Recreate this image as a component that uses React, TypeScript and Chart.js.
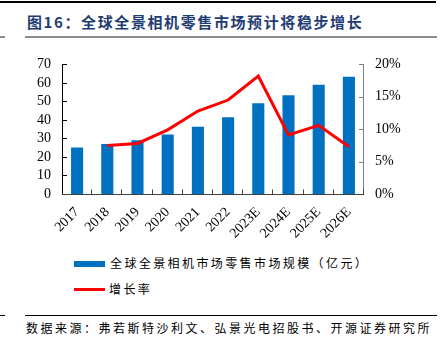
import React, { useEffect, useRef } from "react";
import { Chart, registerables } from "chart.js";

Chart.register(...registerables);

const categories = ["2017", "2018", "2019", "2020", "2021", "2022", "2023E", "2024E", "2025E", "2026E"];
const marketSize = [25.1, 27.0, 29.0, 32.2, 36.3, 41.4, 49.0, 53.4, 59.0, 63.3];
const growthRate = [null, 7.5, 7.8, 9.9, 12.8, 14.5, 18.2, 9.1, 10.6, 7.3];
const leftTicks = [0, 10, 20, 30, 40, 50, 60, 70];
const rightTicks = [0, 5, 10, 15, 20];

const barLabel = "全球全景相机市场零售市场规模（亿元）";
const lineLabel = "增长率";
const titleText = "图16：全球全景相机零售市场预计将稳步增长";
const sourceText = "数据来源：弗若斯特沙利文、弘景光电招股书、开源证券研究所";

const BLUE = "#0070C0";
const RED = "#FF0000";
const CJK = '"Noto Sans CJK SC", sans-serif';
const SERIF = '"Liberation Serif", "DejaVu Serif", serif';

const axisPlugin = {
  id: "inwardAxes",
  afterDatasetsDraw(chart: any) {
    const { ctx, chartArea } = chart;
    const x = chart.scales.x;
    const y = chart.scales.y;
    const y1 = chart.scales.y1;
    ctx.save();
    ctx.lineWidth = 1;
    // left axis
    ctx.strokeStyle = "#000000";
    ctx.beginPath();
    ctx.moveTo(chartArea.left + 0.5, chartArea.top);
    ctx.lineTo(chartArea.left + 0.5, chartArea.bottom);
    leftTicks.forEach((v) => {
      const py = Math.round(y.getPixelForValue(v)) + 0.5;
      ctx.moveTo(chartArea.left, py);
      ctx.lineTo(chartArea.left + 5, py);
    });
    ctx.stroke();
    // right axis
    ctx.strokeStyle = "#7F7F7F";
    ctx.beginPath();
    ctx.moveTo(chartArea.right - 0.5, chartArea.top);
    ctx.lineTo(chartArea.right - 0.5, chartArea.bottom);
    rightTicks.forEach((v) => {
      const py = Math.round(y1.getPixelForValue(v)) + 0.5;
      ctx.moveTo(chartArea.right, py);
      ctx.lineTo(chartArea.right - 5, py);
    });
    ctx.stroke();
    // x axis
    ctx.strokeStyle = "#404040";
    ctx.beginPath();
    const by = Math.round(chartArea.bottom) + 0.5;
    ctx.moveTo(chartArea.left, by);
    ctx.lineTo(chartArea.right, by);
    const n = categories.length;
    const step = (x.right - x.left) / n;
    for (let i = 1; i <= n; i++) {
      const px = Math.round(x.left + i * step) - 0.5;
      ctx.moveTo(px, by);
      ctx.lineTo(px, by - 5);
    }
    ctx.stroke();
    ctx.restore();
  },
};

function ChartCanvas() {
  const ref = useRef<HTMLCanvasElement | null>(null);
  useEffect(() => {
    if (!ref.current) return;
    const chart = new Chart(ref.current, {
      type: "bar",
      data: {
        labels: categories,
        datasets: [
          {
            type: "line",
            label: lineLabel,
            data: growthRate as any,
            yAxisID: "y1",
            borderColor: RED,
            backgroundColor: RED,
            borderWidth: 3,
            pointRadius: 0,
            tension: 0,
            order: 0,
          } as any,
          {
            type: "bar",
            label: barLabel,
            data: marketSize,
            yAxisID: "y",
            backgroundColor: BLUE,
            categoryPercentage: 1,
            barPercentage: 0.4,
            order: 1,
          },
        ],
      },
      options: {
        responsive: false,
        animation: false,
        layout: { padding: { top: 17, left: 0, right: 0, bottom: 0 } },
        plugins: { legend: { display: false }, tooltip: { enabled: false }, title: { display: false } },
        scales: {
          x: {
            grid: { display: false, drawTicks: false },
            border: { display: false },
            ticks: {
              color: "#000",
              font: { family: SERIF, size: 14 },
              minRotation: 45,
              maxRotation: 45,
              padding: 10,
              autoSkip: false,
            },
            afterFit: (s: any) => {
              s.height = 56;
            },
          },
          y: {
            position: "left",
            min: 0,
            max: 70,
            grid: { display: false, drawTicks: false },
            border: { display: false },
            ticks: {
              stepSize: 10,
              autoSkip: false,
              color: "#000",
              font: { family: SERIF, size: 14 },
              padding: 11,
            },
            afterFit: (s: any) => {
              s.width = 62;
            },
          },
          y1: {
            position: "right",
            min: 0,
            max: 20,
            grid: { display: false, drawTicks: false },
            border: { display: false },
            ticks: {
              stepSize: 5,
              autoSkip: false,
              color: "#000",
              font: { family: SERIF, size: 14 },
              padding: 11,
              callback: (v: any) => v + "%",
            },
            afterFit: (s: any) => {
              s.width = 78;
            },
          },
        },
      },
      plugins: [axisPlugin],
    });
    return () => chart.destroy();
  }, []);
  return (
    <canvas
      ref={ref}
      width={442}
      height={205}
      style={{ position: "absolute", left: 0, top: 45, width: 442, height: 205 }}
    />
  );
}

export default function App() {
  return (
    <div
      style={{
        position: "absolute",
        left: 0,
        top: 0,
        width: 442,
        height: 352,
        background: "#fff",
        overflow: "hidden",
      }}
    >
      <div style={{ position: "absolute", left: 0, top: 1, width: 436, height: 2, background: "#000" }} />
      <div
        style={{
          position: "absolute",
          left: 27,
          top: 12,
          fontFamily: CJK,
          fontWeight: 700,
          fontSize: 15,
          letterSpacing: 1.6,
          color: "#1F3C73",
          whiteSpace: "nowrap",
          lineHeight: "20px",
        }}
      >
        {titleText}
      </div>
      <div style={{ position: "absolute", left: 25, top: 36, width: 412, height: 2, background: "#8C8C8C" }} />
      <div style={{ position: "absolute", left: 0, top: 36, width: 5, height: 2, background: "#8C8C8C" }} />
      <ChartCanvas />
      <div style={{ position: "absolute", left: 74, top: 261, width: 31, height: 6, background: BLUE }} />
      <div
        style={{
          position: "absolute",
          left: 110,
          top: 255,
          fontFamily: CJK,
          fontSize: 12,
          letterSpacing: 2.4,
          color: "#000",
          whiteSpace: "nowrap",
          lineHeight: "16px",
        }}
      >
        {barLabel}
      </div>
      <div style={{ position: "absolute", left: 74, top: 288, width: 31, height: 3, background: RED }} />
      <div
        style={{
          position: "absolute",
          left: 109,
          top: 281,
          fontFamily: CJK,
          fontSize: 12,
          letterSpacing: 2.4,
          color: "#000",
          whiteSpace: "nowrap",
          lineHeight: "16px",
        }}
      >
        {lineLabel}
      </div>
      <div style={{ position: "absolute", left: 25, top: 315, width: 412, height: 1, background: "#000" }} />
      <div style={{ position: "absolute", left: 0, top: 315, width: 5, height: 1, background: "#000" }} />
      <div
        style={{
          position: "absolute",
          left: 26,
          top: 320,
          fontFamily: CJK,
          fontSize: 12,
          letterSpacing: 2.5,
          color: "#000",
          whiteSpace: "nowrap",
          lineHeight: "16px",
        }}
      >
        {sourceText}
      </div>
    </div>
  );
}
